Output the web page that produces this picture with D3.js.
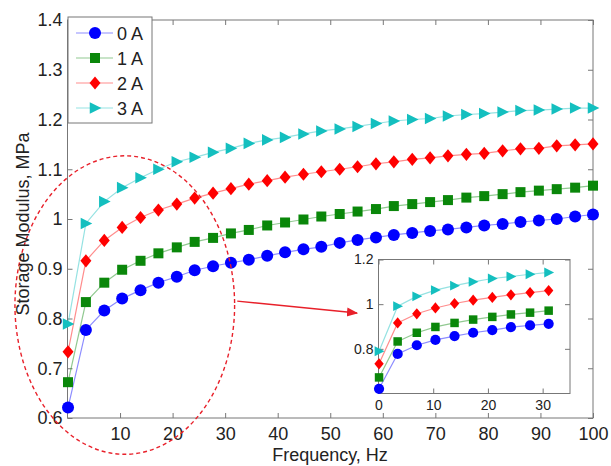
<!DOCTYPE html>
<html>
<head>
<meta charset="utf-8">
<script src="https://cdn.jsdelivr.net/npm/d3@7"></script>
<style>
  body { margin: 0; background: #fff; }
  svg { display: block; }
  text { font-family: "Liberation Sans", Arial, sans-serif; fill: #222; }
</style>
</head>
<body>
<svg id="chart" width="611" height="466"></svg>
<script>
// frequency points, Hz
var freq = [0.1, 3.5, 7.0, 10.4, 13.9, 17.3, 20.8, 24.2, 27.7, 31.1,
            34.5, 38.0, 41.4, 44.9, 48.3, 51.8, 55.2, 58.7, 62.1, 65.6,
            69.0, 72.4, 75.9, 79.3, 82.8, 86.2, 89.7, 93.1, 96.6, 100];

// storage modulus, MPa
var mod0A = [0.621, 0.777, 0.816, 0.840, 0.857, 0.872, 0.884, 0.897, 0.905, 0.912,
             0.918, 0.926, 0.933, 0.939, 0.944, 0.952, 0.958, 0.963, 0.968, 0.972,
             0.976, 0.979, 0.983, 0.987, 0.990, 0.994, 0.997, 1.000, 1.005, 1.009];
var mod1A = [0.672, 0.833, 0.872, 0.898, 0.916, 0.931, 0.943, 0.954, 0.962, 0.971,
             0.978, 0.987, 0.993, 0.999, 1.005, 1.010, 1.015, 1.020, 1.026, 1.030,
             1.034, 1.038, 1.043, 1.046, 1.050, 1.054, 1.057, 1.060, 1.063, 1.067];
var mod2A = [0.733, 0.916, 0.957, 0.983, 1.003, 1.018, 1.030, 1.042, 1.052, 1.061,
             1.070, 1.077, 1.084, 1.090, 1.095, 1.100, 1.105, 1.111, 1.115, 1.120,
             1.123, 1.127, 1.130, 1.132, 1.137, 1.141, 1.142, 1.147, 1.149, 1.151];
var mod3A = [0.789, 0.991, 1.035, 1.063, 1.083, 1.100, 1.115, 1.124, 1.134, 1.142,
             1.152, 1.159, 1.164, 1.171, 1.177, 1.181, 1.186, 1.192, 1.197, 1.200,
             1.202, 1.207, 1.210, 1.212, 1.215, 1.218, 1.219, 1.221, 1.223, 1.223];

var seriesNames = ["0 A", "1 A", "2 A", "3 A"];
var seriesValues = [mod0A, mod1A, mod2A, mod3A];
var seriesColors = ["#0000ff", "#0a870a", "#ff0000", "#14bfbf"];
var seriesMarkers = ["circle", "square", "diamond", "triangle"];

var xTicks = [10, 20, 30, 40, 50, 60, 70, 80, 90, 100];
var yTicks = [0.6, 0.7, 0.8, 0.9, 1.0, 1.1, 1.2, 1.3, 1.4];
var insetCount = 10;   // first points shown in the zoomed inset
var insetXTicks = [0, 10, 20, 30];
var insetYTicks = [0.8, 1.0, 1.2];

var svg = d3.select("#chart");

var x = d3.scaleLinear().domain([0, 100]).range([67.5, 593]);
var y = d3.scaleLinear().domain([0.6, 1.4]).range([418, 20]);
var xi = d3.scaleLinear().domain([0, 35]).range([378.5, 570]);
var yi = d3.scaleLinear().domain([0.6, 1.2]).range([393.5, 259.5]);

function markerPath(kind, s) {
    if (kind == "circle") return d3.symbol().type(d3.symbolCircle).size(Math.PI * s * s)();
    if (kind == "square") return "M" + (-s) + "," + (-s) + "h" + (2 * s) + "v" + (2 * s) + "h" + (-2 * s) + "Z";
    if (kind == "diamond") return "M0," + (-s * 1.2) + "L" + s + ",0L0," + (s * 1.2) + "L" + (-s) + ",0Z";
    return "M" + (-s * 0.9) + "," + (-s) + "L" + (s * 1.1) + ",0L" + (-s * 0.9) + "," + s + "Z";
}
var markerSize = {circle: 6, square: 5, diamond: 5.5, triangle: 5.8};

function fmt(d) { return d3.format("")(+d.toFixed(1)); }

function drawAxes(g, xs, ys, xt, yt, fontSize, pad) {
    var x0 = xs.range()[0], x1 = xs.range()[1];
    var y0 = ys.range()[0], y1 = ys.range()[1];
    g.append("rect")
        .attr("x", x0).attr("y", y1)
        .attr("width", x1 - x0).attr("height", y0 - y1)
        .attr("fill", "#fff").attr("stroke", "#777").attr("stroke-width", 1);

    var ax = [
        g.append("g").attr("transform", "translate(0," + y0 + ")")
            .call(d3.axisBottom(xs).tickValues(xt).tickSize(-5).tickPadding(pad).tickFormat(fmt)),
        g.append("g").attr("transform", "translate(0," + y1 + ")")
            .call(d3.axisTop(xs).tickValues(xt).tickSize(-5).tickFormat("")),
        g.append("g").attr("transform", "translate(" + x0 + ",0)")
            .call(d3.axisLeft(ys).tickValues(yt).tickSize(-5).tickPadding(5).tickFormat(fmt)),
        g.append("g").attr("transform", "translate(" + x1 + ",0)")
            .call(d3.axisRight(ys).tickValues(yt).tickSize(-5).tickFormat(""))
    ];
    ax.forEach(function(a) {
        a.select(".domain").remove();
        a.selectAll("line").attr("stroke", "#777");
        a.selectAll("text").attr("font-size", fontSize + "px")
            .attr("font-family", "Liberation Sans, Arial, sans-serif").attr("fill", "#222");
    });
}

function drawSeries(g, xs, ys, n, scaleMark) {
    seriesValues.forEach(function(vals, k) {
        var pts = d3.range(n).map(function(i) { return [freq[i], vals[i]]; });
        g.append("path")
            .datum(pts)
            .attr("fill", "none")
            .attr("stroke", seriesColors[k])
            .attr("stroke-opacity", 0.45)
            .attr("stroke-width", 1.2)
            .attr("d", d3.line().x(function(d) { return xs(d[0]); }).y(function(d) { return ys(d[1]); }));
        g.selectAll(".m" + k)
            .data(pts)
            .enter()
            .append("path")
            .attr("class", "m" + k)
            .attr("transform", function(d) { return "translate(" + xs(d[0]) + "," + ys(d[1]) + ")"; })
            .attr("d", markerPath(seriesMarkers[k], markerSize[seriesMarkers[k]] * scaleMark))
            .attr("fill", seriesColors[k]);
    });
}

// main plot
var main = svg.append("g");
drawAxes(main, x, y, xTicks, yTicks, 18, 9);
drawSeries(main, x, y, freq.length, 1);

// legend
var legend = svg.append("g");
legend.append("rect")
    .attr("x", 68).attr("y", 17).attr("width", 84).attr("height", 106)
    .attr("fill", "#fff").attr("stroke", "#777");
seriesNames.forEach(function(name, k) {
    var ly = 33 + k * 25;
    legend.append("line")
        .attr("x1", 76).attr("x2", 113).attr("y1", ly).attr("y2", ly)
        .attr("stroke", seriesColors[k]).attr("stroke-opacity", 0.45).attr("stroke-width", 1.2);
    legend.append("path")
        .attr("transform", "translate(95," + ly + ")")
        .attr("d", markerPath(seriesMarkers[k], markerSize[seriesMarkers[k]]))
        .attr("fill", seriesColors[k]);
    legend.append("text")
        .attr("x", 117).attr("y", ly + 6.5)
        .attr("font-size", "18px")
        .text(name);
});

// highlight ellipse and arrow
svg.append("ellipse")
    .attr("cx", x(10.9)).attr("cy", y(0.827))
    .attr("rx", x(20.9) - x(0)).attr("ry", y(0.6) - y(0.9))
    .attr("fill", "none")
    .attr("stroke", "#e8202a")
    .attr("stroke-width", 1.4)
    .attr("stroke-dasharray", "4,3");

svg.append("defs").append("marker")
    .attr("id", "arrow")
    .attr("viewBox", "0 0 10 10")
    .attr("refX", 9).attr("refY", 5)
    .attr("markerWidth", 8).attr("markerHeight", 8)
    .attr("orient", "auto")
    .append("path").attr("d", "M0,1L10,5L0,9Z").attr("fill", "#e8202a");

svg.append("line")
    .attr("x1", x(32.3)).attr("y1", y(0.835))
    .attr("x2", x(55.1)).attr("y2", y(0.811))
    .attr("stroke", "#e8202a").attr("stroke-width", 1.4)
    .attr("marker-end", "url(#arrow)");

// inset
var inset = svg.append("g");
drawAxes(inset, xi, yi, insetXTicks, insetYTicks, 14, 7);
drawSeries(inset, xi, yi, insetCount, 0.85);

// axis titles
svg.append("text")
    .attr("x", 330).attr("y", 461)
    .attr("text-anchor", "middle")
    .attr("font-size", "18px")
    .text("Frequency, Hz");

svg.append("text")
    .attr("transform", "translate(29,224) rotate(-90)")
    .attr("text-anchor", "middle")
    .attr("font-size", "18px")
    .text("Storage Modulus, MPa");
</script>
</body>
</html>
